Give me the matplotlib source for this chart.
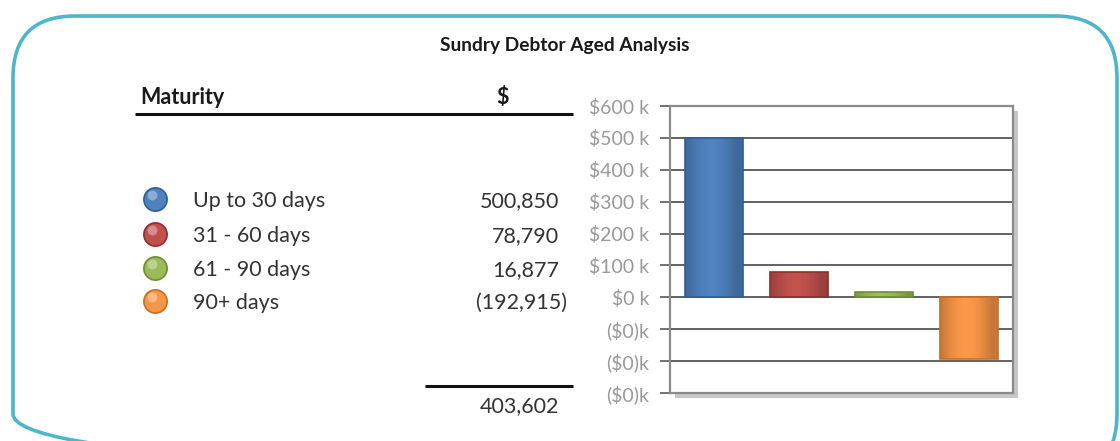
import matplotlib
matplotlib.use("Agg")
import numpy as np
import matplotlib.pyplot as plt
from matplotlib.patches import FancyBboxPatch, Rectangle
from matplotlib.ticker import FuncFormatter, MultipleLocator
from matplotlib.colors import to_rgb

# ---- data ----
categories = ["Up to 30 days", "31 - 60 days", "61 - 90 days", "90+ days"]
values = [500850, 78790, 16877, -192915]
total_value = 403602
title = "Sundry Debtor Aged Analysis"
col_header_left = "Maturity"
col_header_right = "$"
bar_colors = ["#4F81BD", "#C0504D", "#9BBB59", "#F79646"]
edge_colors = ["#2F5F95", "#8E2F2C", "#6E8E35", "#C86E22"]

FONT = ["Lato", "DejaVu Sans"]
FS = 15.5

W, H = 1120, 441
fig = plt.figure(figsize=(W / 100, H / 100), dpi=100)
fig.patch.set_facecolor("white")

# overlay axes in pixel coordinates for the table part
ov = fig.add_axes([0, 0, 1, 1], zorder=0)
ov.set_xlim(0, W)
ov.set_ylim(H, 0)
ov.axis("off")

# rounded border
border = FancyBboxPatch((13, 16), 1104, 460, boxstyle="round,pad=0,rounding_size=62",
                        fill=False, edgecolor="#4DB6C9", linewidth=2.6)
ov.add_patch(border)

# title
ov.text(565, 46, title, ha="center", va="center", fontsize=13.8, fontweight="bold",
        family=FONT, color="#1a1a1a")

# headers
ov.text(140, 98, col_header_left, ha="left", va="center", fontsize=FS,
        fontweight="bold", family=FONT, color="#1a1a1a")
ov.text(503, 98, col_header_right, ha="center", va="center", fontsize=FS,
        fontweight="bold", family=FONT, color="#1a1a1a")
ov.plot([135, 573], [114, 114], color="#111111", linewidth=2.2, solid_capstyle="butt")

def fmt_num(v):
    s = f"{abs(v):,.0f}"
    return f"({s})" if v < 0 else s

row_y = [201, 236, 270, 303]
for cat, val, c, ec, y in zip(categories, values, bar_colors, edge_colors, row_y):
    ov.scatter([155], [y - 2], s=280, color=c, edgecolors=ec, linewidths=1.2, zorder=3)
    ov.scatter([152], [y - 6], s=50, color="white", alpha=0.35, linewidths=0, zorder=4)
    ov.text(193, y, cat, ha="left", va="center", fontsize=FS, family=FONT, color="#333333")
    xr = 567 if val < 0 else 559
    ov.text(xr, y, fmt_num(val), ha="right", va="center", fontsize=FS, family=FONT,
            color="#333333")

ov.plot([425, 573], [386, 386], color="#111111", linewidth=2.2, solid_capstyle="butt")
ov.text(559, 406, fmt_num(total_value), ha="right", va="center", fontsize=FS,
        family=FONT, color="#333333")

# chart frame shadow
ax_l, ax_r, ax_t, ax_b = 670, 1013, 106, 393
ov.add_patch(Rectangle((ax_l + 5, ax_t + 5), ax_r - ax_l, ax_b - ax_t,
                       facecolor="#9a9a9a", edgecolor="none", alpha=0.55, zorder=1))

# bar chart
ax = fig.add_axes([ax_l / W, 1 - ax_b / H, (ax_r - ax_l) / W, (ax_b - ax_t) / H], zorder=2)
ax.set_facecolor("white")
x = list(range(len(values)))
bars = ax.bar(x, values, width=0.68, color=bar_colors, edgecolor=edge_colors, linewidth=1.2,
              zorder=3)

# subtle cylindrical shading on each bar (clipped to the bar patch)
t = np.linspace(0, 1, 64)
shade = 0.80 + 0.22 * np.sin(np.pi * np.clip(t * 1.1, 0, 1)) 
for b, c in zip(bars, bar_colors):
    rgb = np.array(to_rgb(c))
    img = np.clip(rgb[None, None, :] * shade[None, :, None], 0, 1)
    x0, w = b.get_x(), b.get_width()
    y0, hgt = b.get_y(), b.get_height()
    im = ax.imshow(img, extent=[x0, x0 + w, min(y0, y0 + hgt), max(y0, y0 + hgt)],
                   aspect="auto", zorder=3.5, interpolation="bilinear")
    im.set_clip_path(b)
    b.set_facecolor("none")
    b.set_zorder(4)

ax.set_xlim(-0.52, 3.52)
ax.set_ylim(-300000, 600000)
ax.yaxis.set_major_locator(MultipleLocator(100000))

def yfmt(v, pos):
    if v < 0:
        return "($0)k"
    return f"${v/1000:.0f} k"

ax.yaxis.set_major_formatter(FuncFormatter(yfmt))
ax.set_xticks([])
ax.grid(axis="y", color="#555555", linewidth=1.3, zorder=1)
for s in ax.spines.values():
    s.set_color("#8a8a8a")
    s.set_linewidth(1.6)
ax.tick_params(axis="y", direction="out", length=7, width=1.3, color="#666666",
               labelcolor="#999999", labelsize=14, pad=8)
for lbl in ax.get_yticklabels():
    lbl.set_family(FONT)

fig.savefig("out.png", dpi=100, facecolor="white")
